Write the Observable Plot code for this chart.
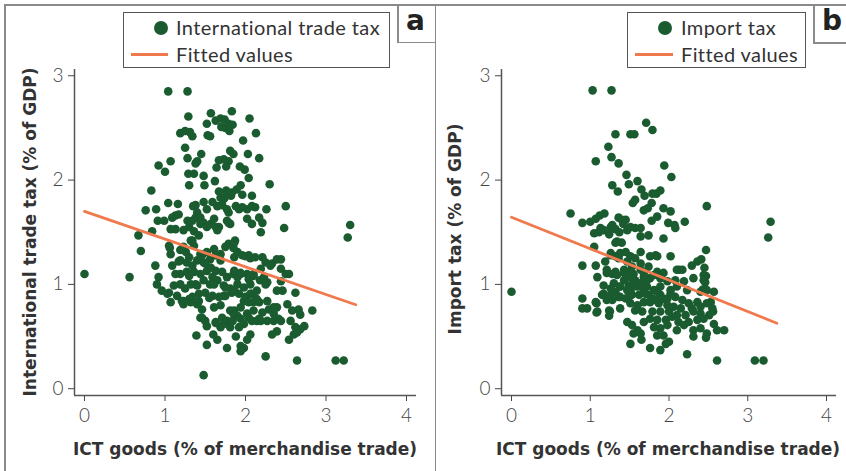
<!DOCTYPE html>
<html><head><meta charset="utf-8">
<script src="https://cdn.jsdelivr.net/npm/d3@7"></script>
<script src="https://cdn.jsdelivr.net/npm/@observablehq/plot@0.6"></script>
<style>
body{margin:0;background:#fff;}
#wrap{position:relative;width:846px;height:471px;overflow:hidden;font-family:Lato,"Open Sans",sans-serif;color:#333;}
.panel{position:absolute;top:0;}
.panel svg text{font-weight:300;}
.ln{position:absolute;background:#8a8a8a;}
.legend{position:absolute;border:1.5px solid #555;background:#fff;box-sizing:border-box;}
.ltxt{position:absolute;font-size:20px;letter-spacing:0.4px;line-height:20px;white-space:nowrap;color:#333;}
.ldot{position:absolute;width:14px;height:14px;border-radius:50%;background:#1a5c30;}
.lline{position:absolute;height:3px;background:#f07a4d;}
.letter{position:absolute;font-family:"DejaVu Sans",sans-serif;font-weight:700;font-size:28px;line-height:30px;color:#222;}
.atitle{position:absolute;font-family:"DejaVu Sans",sans-serif;font-weight:700;font-size:17px;white-space:nowrap;color:#333;transform:translate(-50%,-50%);}
.atitle.rot{transform:translate(-50%,-50%) rotate(-90deg);}
</style>
</head><body>
<div id="wrap"></div>
<script>
// Panel a: ICT goods (% of merchandise trade) vs International trade tax (% of GDP)
const panelAPoints = [
[1.04,2.85],[1.28,2.85],[1.29,2.61],[1.57,2.64],[1.83,2.66],[2.05,2.59],[1.52,2.54],[1.63,2.57],[1.69,2.59],[1.74,2.58],[1.79,2.54],[1.84,2.53],[1.70,2.51],[1.75,2.50],[1.80,2.47],[2.13,2.45],[1.19,2.45],[1.25,2.47],[1.31,2.46],[1.34,2.42],[1.53,2.43],[1.56,2.42],[1.97,2.38],[1.25,2.31],[1.45,2.25],[1.81,2.28],[1.85,2.25],[2.03,2.25],[1.28,2.21],[1.07,2.18],[1.40,2.18],[1.38,2.16],[1.67,2.19],[1.73,2.20],[1.79,2.18],[1.76,2.13],[1.64,2.12],[2.17,2.21],[0.92,2.14],[1.00,2.08],[1.29,2.06],[1.36,2.06],[1.48,2.04],[1.93,2.13],[1.99,2.10],[2.04,2.02],[1.62,1.99],[1.30,1.95],[1.49,1.95],[2.30,1.96],[0.83,1.90],[1.67,1.89],[1.76,1.90],[1.83,1.88],[1.89,1.91],[1.94,1.95],[1.96,1.86],[2.08,1.85],[1.74,1.83],[1.82,1.85],[1.69,1.83],[1.73,1.82],[1.77,1.87],
[1.04,1.78],[1.16,1.77],[0.89,1.72],[0.76,1.71],[1.35,1.75],[1.38,1.76],[1.48,1.79],[1.59,1.79],[1.65,1.75],[1.71,1.76],[1.77,1.72],[1.88,1.75],[1.96,1.74],[2.02,1.72],[2.08,1.75],[2.12,1.74],[2.26,1.72],[2.50,1.75],[1.40,1.69],[1.52,1.72],[1.79,1.69],[1.92,1.72],
[0.91,1.61],[0.99,1.61],[0.84,1.51],[1.09,1.64],[1.13,1.66],[1.17,1.67],[1.07,1.53],[1.13,1.53],[1.34,1.61],[1.38,1.64],[1.44,1.58],[1.30,1.55],[1.57,1.58],[1.63,1.55],[1.67,1.55],[1.81,1.58],[1.77,1.61],[2.02,1.63],[2.08,1.58],[2.17,1.64],[2.21,1.59],[2.48,1.54],[1.28,1.61],[1.44,1.64],[1.48,1.59],[1.52,1.55],[1.61,1.63],[1.65,1.52],[1.79,1.59],[1.23,1.52],[2.19,1.50],[1.36,1.51],[1.42,1.47],[1.34,1.42],[1.61,1.34],[1.69,1.29],[1.85,1.35],
[0.67,1.47],[0.70,1.32],[0.88,1.18],[0.92,1.07],[0.90,1.00],[0.96,0.94],[1.03,0.91],[1.07,0.83],[1.05,1.37],[1.07,1.29],[1.09,1.18],[1.19,1.23],[1.23,1.36],[1.30,1.26],[1.34,1.18],[1.40,1.23],[1.46,1.28],[1.50,1.20],[1.56,1.24],[1.63,1.28],[1.69,1.23],[1.75,1.36],[1.79,1.39],[1.87,1.42],[1.90,1.31],[1.96,1.28],[2.04,1.28],[2.12,1.26],[2.21,1.26],[2.25,1.21],[2.33,1.20],[2.39,1.24],
[1.19,1.10],[1.27,1.12],[1.36,1.12],[1.44,1.10],[1.52,1.13],[1.63,1.13],[1.71,1.12],[1.77,1.07],[1.85,1.10],[1.94,1.10],[2.02,1.10],[2.10,1.08],[2.18,1.04],[2.27,1.02],
[1.11,0.99],[1.19,1.00],[1.25,0.96],[1.32,1.00],[1.40,0.99],[1.48,1.04],[1.56,1.00],[1.65,1.04],[1.73,0.99],[1.81,0.96],[1.90,1.00],[1.98,0.97],[2.06,1.00],[2.14,0.94],
[1.15,0.89],[1.23,0.84],[1.34,0.88],[1.42,0.91],[1.50,0.92],[1.59,0.89],[1.67,0.88],[1.75,0.89],[1.83,0.92],[1.92,0.91],[2.00,0.88],[2.06,0.91],[2.14,0.86],
[1.23,0.81],[1.32,0.83],[1.40,0.81],[1.46,0.76],[1.61,0.78],[1.69,0.80],[1.81,0.75],[1.94,0.78],[2.04,0.83],[2.10,0.83],[2.27,0.84],[2.39,0.94],[2.39,0.78],
[1.46,0.68],[1.50,0.65],[1.63,0.64],[1.71,0.68],[1.77,0.65],[1.85,0.72],[1.94,0.67],[2.02,0.72],[2.14,0.65],[2.21,0.73],[2.27,0.65],[2.35,0.72],[2.41,0.67],
[1.69,0.59],[1.81,0.59],[1.92,0.59],[1.98,0.62],
[1.17,1.22],[1.27,1.21],[1.48,1.21],[1.57,1.16],[1.86,1.13],[1.94,1.11],[2.10,1.10],[2.19,1.15],[2.31,1.18],[1.13,1.10],[1.30,1.08],[1.59,1.07],[1.90,1.07],[2.04,1.05],[2.23,1.07],[1.05,0.92],[1.38,1.00],[1.61,1.00],[1.75,0.97],[1.86,0.94],[2.25,1.00],[1.21,0.84],[1.30,0.86],[1.42,0.84],[1.55,0.87],[1.73,0.89],[1.98,0.84],[2.08,0.91],[2.17,0.83],[1.44,0.68],[1.52,0.60],[1.63,0.63],[1.73,0.62],[1.86,0.75],[1.90,0.70],[2.04,0.68],[2.10,0.75],[2.17,0.67],[2.29,0.76],[2.35,0.78],[2.35,0.65],[2.19,0.65],[2.08,0.65],[1.84,0.65],[1.06,1.35],[1.19,1.33],[1.26,1.31],[1.32,1.42],[1.36,1.37],[1.44,1.29],[1.52,1.31],[1.86,1.40],[1.86,1.26],[2.00,1.27],[2.06,1.25],[2.44,1.24],
[3.27,1.45],[3.30,1.57],[0.00,1.10],[0.56,1.07],
[2.44,1.15],[2.50,1.10],[2.54,1.10],[2.44,1.03],[2.46,0.94],[2.62,0.92],[2.44,0.65],[2.52,0.81],[2.58,0.75],[2.66,0.76],[2.68,0.71],[2.83,0.75],[2.56,0.65],[2.62,0.59],[2.68,0.57],[2.73,0.60],[2.54,0.47],[2.60,0.52],[2.64,0.54],
[1.39,0.51],[1.60,0.52],[1.65,0.47],[1.52,0.42],[1.77,0.39],[1.88,0.50],[1.94,0.41],[1.98,0.39],[2.02,0.47],[2.06,0.52],[1.94,0.36],[2.33,0.52],[2.39,0.55],[2.25,0.31],[2.64,0.27],[3.12,0.27],[3.22,0.27],[1.48,0.13]
];
// Panel b: ICT goods (% of merchandise trade) vs Import tax (% of GDP)
const panelBPoints = [
[1.03,2.86],[1.27,2.86],[1.71,2.55],[1.79,2.48],[1.32,2.44],[1.51,2.44],[1.56,2.44],[1.23,2.32],[1.27,2.22],[1.36,2.16],[1.07,2.18],[1.94,2.14],[2.03,2.03],[1.46,2.05],[1.60,1.99],[1.49,1.96],[1.28,1.95],[1.35,1.89],[1.65,1.91],[1.69,1.85],[1.79,1.87],[1.84,1.87],[1.89,1.90],[1.57,1.81],[1.54,1.78],[1.78,1.78],[1.68,1.71],[1.73,1.73],[1.93,1.73],[2.02,1.70],[1.85,1.65],[1.78,1.61],[2.48,1.75],[0.75,1.68],[0.90,1.59],[1.00,1.60],[1.07,1.63],[1.12,1.66],[1.18,1.68],[1.28,1.57],[1.36,1.64],[1.40,1.62],[1.45,1.62],[1.13,1.54],[1.26,1.55],[1.99,1.59],[2.07,1.57],[2.20,1.60],[2.08,1.54],[1.51,1.55],[1.57,1.54],[1.64,1.54],[1.42,1.58],[1.32,1.53],
[1.05,1.49],[1.11,1.50],[1.17,1.52],[1.24,1.48],[1.74,1.47],[1.64,1.46],[1.47,1.52],[1.93,1.44],[1.37,1.50],[1.40,1.40],[1.34,1.41],[3.26,1.45],[3.29,1.60],
[2.47,1.33],[2.41,1.24],[2.45,1.16],[2.47,1.08],[2.46,1.02],[2.43,0.95],[2.29,1.18],[2.13,1.14],
[1.05,1.36],[1.32,1.40],[1.64,1.31],[1.76,1.27],[1.85,1.27],[2.02,1.27],[0.90,1.18],[1.07,1.18],[1.19,1.22],[1.26,1.28],[1.36,1.25],[1.47,1.22],[1.53,1.17],[1.64,1.20],[1.74,1.17],[1.85,1.12],[1.93,1.11],[2.10,1.14],[2.17,1.14],[2.36,1.22],[2.44,1.09],
[1.21,1.11],[1.32,1.12],[1.43,1.11],[1.51,1.07],[1.57,1.04],[1.68,1.11],[1.76,1.06],[1.89,1.06],[1.98,1.03],[2.08,1.04],[2.19,1.03],[2.31,1.06],[2.44,1.04],[1.09,1.07],
[1.17,0.99],[1.30,1.01],[1.38,0.98],[1.47,0.945],[1.55,0.98],[1.64,1.01],[1.72,0.98],[1.81,0.945],[1.89,0.98],[2.02,0.945],[2.10,0.98],[2.23,0.945],[2.40,0.93],[2.48,0.945],
[1.17,0.91],[1.26,0.90],[1.36,0.88],[1.45,0.865],[1.53,0.90],[1.62,0.90],[1.70,0.91],[1.79,0.865],[1.89,0.90],[1.98,0.865],[2.08,0.88],[2.17,0.85],[2.25,0.82],[2.36,0.83],[2.48,0.82],
[0.90,0.865],[1.07,0.83],[1.21,0.85],[1.51,0.82],[1.60,0.80],[1.68,0.83],[1.87,0.82],[1.98,0.80],[2.06,0.785],[2.15,0.77],[2.29,0.77],[2.40,0.785],
[0.90,0.77],[0.96,0.77],[1.09,0.74],[1.24,0.75],[1.38,0.77],[1.57,0.75],[1.66,0.74],[1.79,0.74],[1.89,0.74],[2.00,0.74],[2.10,0.705],[2.21,0.705],[2.31,0.74],[2.40,0.72],[2.51,0.705],
[1.47,0.64],[1.53,0.61],[1.60,0.56],[1.68,0.64],[1.76,0.67],[1.85,0.66],[1.96,0.66],[2.04,0.69],[2.12,0.64],[2.25,0.64],[2.36,0.66],[2.44,0.67],
[1.55,0.53],[1.64,0.53],[1.81,0.59],[1.89,0.58],[1.98,0.61],[2.10,0.56],[2.19,0.61],[2.31,0.56],[2.40,0.58],[2.48,0.53],[1.85,0.51],[1.93,0.51],[2.31,0.50],
[1.38,1.30],[1.45,1.31],[1.51,1.27],[1.57,1.25],[1.26,1.30],[1.32,1.27],[1.83,1.28],[1.24,0.70],[1.25,0.74],[1.08,0.73],[1.08,0.82],
[1.21,1.14],[1.28,1.10],[1.34,1.09],[1.43,1.14],[1.49,1.12],[1.55,1.10],[1.64,1.14],[1.68,1.07],[1.72,1.04],[1.81,1.09],[1.43,1.04],[1.49,0.99],[1.55,1.02],[1.60,0.98],[1.64,1.01],[1.68,0.94],[1.51,0.94],[1.38,0.98],[1.32,0.93],[1.26,0.96],[1.15,0.90],[1.21,0.88],[1.28,0.85],[1.38,0.88],[1.49,0.88],[1.74,0.90],[1.85,0.93],[1.83,0.85],[1.76,0.83],[1.93,0.86],[2.02,0.91],
[0.00,0.93],[2.57,0.93],[2.56,0.74],[2.55,0.77],[2.53,0.83],[2.57,0.62],[2.61,0.56],[2.70,0.56],
[2.23,0.33],[1.76,0.39],[1.51,0.43],[1.89,0.37],[2.00,0.45],[1.65,0.47],[1.96,0.43],[2.47,0.49],[2.61,0.27],[3.09,0.27],[3.20,0.27]
];
// Fitted values (line endpoints)
const fitAX = [0, 3.37], fitAY = [1.70, 0.805];
const fitBX = [0, 3.37], fitBY = [1.643, 0.628];
const xTicks = [0, 1, 2, 3, 4];
const yTicks = [0, 1, 2, 3];

const GREEN = "#1a5c30", ORANGE = "#f07a4d", AXIS = "#555";

function panel({points, fx, fy, width, marginLeft, marginRight, xDomain}) {
  const yDomain = [-0.065, 3.06];
  const fit = fx.map((x, i) => ({x, y: fy[i]}));
  return Plot.plot({
    width, height: 471,
    marginLeft, marginRight, marginTop: 69, marginBottom: 76,
    style: {fontFamily: "Lato, 'Open Sans', sans-serif", fontSize: "19px", color: "#444", background: "transparent", overflow: "visible"},
    x: {domain: xDomain, ticks: xTicks, tickSize: 6, tickPadding: 7, tickFormat: d => String(d), label: null},
    y: {domain: yDomain, ticks: yTicks, tickSize: 6, tickPadding: 5, tickFormat: d => String(d), label: null},
    marks: [
      Plot.ruleX([xDomain[0]], {stroke: AXIS, strokeWidth: 1.5}),
      Plot.ruleY([yDomain[0]], {stroke: AXIS, strokeWidth: 1.5}),
      Plot.dot(points, {x: d => d[0], y: d => d[1], r: 4.3, fill: GREEN, stroke: "none"}),
      Plot.line(fit, {x: "x", y: "y", stroke: ORANGE, strokeWidth: 2.8})
    ]
  });
}

const wrap = document.getElementById("wrap");
function add(el, cls, css, text) {
  const d = document.createElement("div");
  d.className = cls;
  Object.assign(d.style, css);
  if (text) d.textContent = text;
  (el || wrap).appendChild(d);
  return d;
}

const pa = add(null, "panel", {left: "0px"});
pa.appendChild(panel({points: panelAPoints, fx: fitAX, fy: fitAY, width: 436, marginLeft: 74, marginRight: 20, xDomain: [-10/80.5, 4 + 10/80.5]}));
const pb = add(null, "panel", {left: "436px"});
pb.appendChild(panel({points: panelBPoints, fx: fitBX, fy: fitBY, width: 410, marginLeft: 65, marginRight: 10, xDomain: [-10/78.75, 4 + 10/78.75]}));

// frame lines
add(null, "ln", {left: "4px", top: "4px", width: "842px", height: "1.5px"});
add(null, "ln", {left: "4px", top: "4px", width: "1.5px", height: "467px"});
add(null, "ln", {left: "434.5px", top: "4px", width: "1.5px", height: "467px"});
// panel letter boxes
add(null, "ln", {left: "397px", top: "4px", width: "1.5px", height: "38px"});
add(null, "ln", {left: "397px", top: "41.5px", width: "39px", height: "1.5px"});
add(null, "ln", {left: "813px", top: "4px", width: "1.5px", height: "39px"});
add(null, "ln", {left: "813px", top: "42px", width: "33px", height: "1.5px"});
add(null, "letter", {left: "406px", top: "6px"}, "a");
add(null, "letter", {left: "822px", top: "6px"}, "b");

// legends
function legend(x, w) {
  add(null, "legend", {left: x + "px", top: "12px", width: w + "px", height: "56px"});
}
legend(123, 267);
add(null, "ldot", {left: "153.5px", top: "20.5px"});
add(null, "ltxt", {left: "176px", top: "17px"}, "International trade tax");
add(null, "lline", {left: "131px", top: "52.5px", width: "37px"});
add(null, "ltxt", {left: "176px", top: "44px"}, "Fitted values");

legend(627, 179);
add(null, "ldot", {left: "658px", top: "20.5px"});
add(null, "ltxt", {left: "681px", top: "17px"}, "Import tax");
add(null, "lline", {left: "635px", top: "52.5px", width: "38px"});
add(null, "ltxt", {left: "681px", top: "44px"}, "Fitted values");

// axis titles
add(null, "atitle rot", {left: "30px", top: "232px"}, "International trade tax (% of GDP)");
add(null, "atitle", {left: "245px", top: "449px"}, "ICT goods (% of merchandise trade)");
add(null, "atitle rot", {left: "455px", top: "229px"}, "Import tax (% of GDP)");
add(null, "atitle", {left: "668px", top: "449px"}, "ICT goods (% of merchandise trade)");
</script>
</body></html>
